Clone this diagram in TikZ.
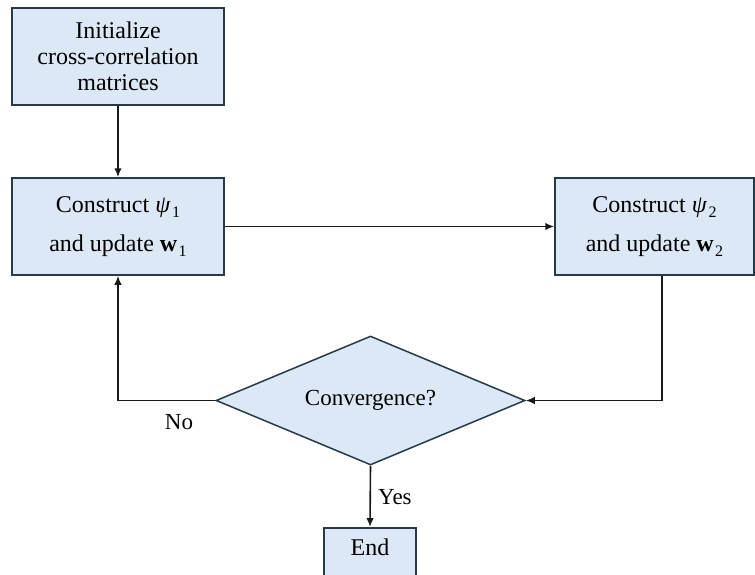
\documentclass[tikz,border=0pt]{standalone}
\usepackage{fontspec}
\setmainfont{Liberation Serif}
\usetikzlibrary{shapes.geometric,arrows.meta}
\definecolor{boxfill}{HTML}{DCE8F5}
\definecolor{boxline}{HTML}{263A48}
\tikzset{
  procbox/.style={draw=boxline,fill=boxfill,line width=1.5pt,inner sep=0pt,align=center,font=\fontsize{24}{26}\selectfont},
  flow/.style={draw=black!90,line width=1.6pt,-{Latex[length=9pt,width=7.5pt]}},
  lbl/.style={font=\fontsize{23}{26}\selectfont,inner sep=0pt}
}
\newcommand{\subnum}[1]{\kern1.5pt\raisebox{-0.45ex}{\fontsize{16}{16}\selectfont #1}}
\begin{document}
\begin{tikzpicture}[x=1pt,y=-1pt]
\useasboundingbox (0,0) rectangle (755,574);
\clip (0,0) rectangle (755,574);
\node[procbox,minimum width=212pt,minimum height=97pt] (init) at (118,56.5)
  {Initialize\\cross-correlation\\matrices};
\node[procbox,minimum width=212pt,minimum height=97pt,font=\fontsize{24}{39}\selectfont] (c1) at (118,226.5)
  {Construct \textit{ψ}\subnum{1}\\and update \textbf{w}\subnum{1}};
\node[procbox,minimum width=199pt,minimum height=97pt,font=\fontsize{24}{39}\selectfont] (c2) at (654.5,226.5)
  {Construct \textit{ψ}\subnum{2}\\and update \textbf{w}\subnum{2}};
\node[procbox,diamond,aspect=2.4,minimum width=309pt,minimum height=129pt,font=\fontsize{23}{26}\selectfont] (conv) at (370.5,400.5) {Convergence?};
\node[procbox,minimum width=92pt,minimum height=70pt,anchor=north] (end) at (370,527) {};
\node[lbl,font=\fontsize{24}{26}\selectfont] (endtxt) at ([yshift=-20pt]end.north) {End};
\coordinate (nocorner) at (118,400.5);
\coordinate (c2corner) at (662,400.5);
\draw[flow] (init.south) -- (c1.north);
\draw[flow] (c1.east) -- (c2.west);
\draw[flow] (c2.south -| c2corner) -- (c2corner) -- (conv.east);
\draw[flow] (conv.west) -- (nocorner) -- (c1.south);
\draw[flow] (conv.south) -- (end.north);
\node[lbl] (no) at (179,422) {No};
\node[lbl,anchor=west] (yes) at (378,497) {Yes};
\end{tikzpicture}
\end{document}
